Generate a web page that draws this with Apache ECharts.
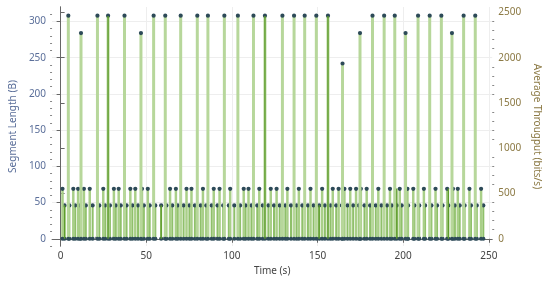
<!DOCTYPE html>
<html>
<head>
<meta charset="utf-8">
<script src="https://cdn.jsdelivr.net/npm/echarts@6/dist/echarts.min.js"></script>
<style>
  html, body { margin: 0; padding: 0; background: #fff; }
  #chart { width: 550px; height: 281px; }
</style>
</head>
<body>
<div id="chart"></div>
<script>
// tall segments (time s, length B)
const tallTimes = [4.5, 11.9, 21.5, 27.7, 37.3, 46.9, 54.3, 61.1, 70.1, 79.8, 86.0, 95.6, 103.5, 112.6, 119.3, 129.5,
  136.3, 142.5, 149.3, 156.1, 164.6, 174.8, 182.1, 188.9, 195.1, 201.4, 208.7, 215.5, 222.3, 228.5, 235.3, 242.1];
const tallValues = [308, 284, 308, 308, 308, 284, 308, 308, 308, 308, 308, 308, 308, 308, 308, 308,
  308, 308, 308, 308, 242, 284, 308, 308, 308, 284, 308, 308, 308, 284, 308, 308];

// 69 B segments
const midTimes = [1.1, 7.4, 10.2, 13.6, 17.0, 24.9, 31.1, 33.9, 40.7, 43.6, 47.5, 50.9, 63.9, 67.3, 73.5, 76.4,
  83.1, 89.4, 92.8, 99.0, 106.9, 109.7, 116.0, 122.7, 126.1, 132.4, 139.1, 145.9, 152.7, 158.9, 162.3, 165.7,
  169.1, 172.5, 175.3, 178.7, 185.5, 192.3, 198.0, 202.5, 205.9, 212.1, 218.9, 225.7, 229.1, 231.9, 238.7, 245.5];
const midValue = 69;

// 46 B segments
const lowTimes = [2.3, 5.1, 8.5, 11.3, 14.7, 18.7, 22.6, 26.0, 28.8, 32.2, 35.1, 38.5, 41.9, 45.2, 48.6, 52.0,
  55.3, 58.7, 61.8, 65.2, 68.4, 71.8, 75.2, 78.4, 81.8, 85.0, 88.2, 91.6, 94.9, 98.2, 101.4, 104.8, 108.0,
  111.4, 114.8, 118.0, 121.3, 124.6, 127.9, 131.2, 134.5, 137.8, 141.1, 144.4, 147.7, 151.0, 154.3, 157.6,
  160.9, 164.2, 167.5, 170.8, 174.1, 177.4, 180.7, 184.0, 187.3, 190.6, 193.3, 196.3, 199.1, 202.9, 206.6,
  209.4, 212.8, 216.5, 219.8, 223.0, 226.4, 230.2, 233.0, 235.9, 239.6, 243.0, 246.8];
const lowValue = 46;

// average throughput spikes (time s, bits/s)
const thrTimes = [2.3, 27.7, 58.7, 119.3, 150.9, 156.1, 196.3, 226.4];
const thrValues = [370, 2460, 370, 2460, 370, 2460, 555, 555];

const xTicks = [0, 50, 100, 150, 200, 250];
const leftTicks = [0, 50, 100, 150, 200, 250, 300];
const rightTicks = [0, 500, 1000, 1500, 2000, 2500];
const xMinor = [10, 20, 30, 40, 60, 70, 80, 90, 110, 120, 130, 140, 160, 170, 180, 190, 210, 220, 230, 240];
const leftMinor = [-10, 10, 20, 30, 40, 60, 70, 80, 90, 110, 120, 130, 140, 160, 170, 180, 190, 210, 220, 230, 240,
  260, 270, 280, 290, 310];
const rightMinor = [100, 200, 300, 400, 600, 700, 800, 900, 1100, 1200, 1300, 1400, 1600, 1700, 1800, 1900,
  2100, 2200, 2300, 2400];

const dotColor = "#2d4a58";
const font = "Noto Sans";

const chart = echarts.init(document.getElementById("chart"), null, { renderer: "canvas" });

function stem(color, width) {
  return function (params, api) {
    const top = api.coord([api.value(0), api.value(1)]);
    const base = api.coord([api.value(0), 0]);
    return {
      type: "group",
      children: [
        { type: "line", shape: { x1: top[0], y1: base[1], x2: top[0], y2: top[1] },
          style: { stroke: color, lineWidth: width } },
        { type: "circle", shape: { cx: top[0], cy: top[1], r: 2.1 }, style: { fill: dotColor } },
        { type: "circle", shape: { cx: base[0], cy: base[1], r: 2.1 }, style: { fill: dotColor } },
      ],
    };
  };
}

function thrLine(params, api) {
  const top = api.coord([api.value(0), api.value(1)]);
  const base = api.coord([api.value(0), 0]);
  return { type: "line", shape: { x1: top[0], y1: base[1], x2: top[0], y2: top[1] },
    style: { stroke: "#5e9c2c", lineWidth: 1.4 } };
}

const minorAxis = {
  axisLine: { show: false },
  axisLabel: { show: false },
  splitLine: { show: false },
};

chart.setOption({
  animation: false,
  textStyle: { fontFamily: font },
  grid: { left: 45, right: 52, top: 7, bottom: 33 },
  xAxis: [
    {
      type: "value", min: -5, max: 252,
      name: "Time (s)", nameLocation: "middle", nameGap: 20,
      nameTextStyle: { color: "#444", fontSize: 10, fontFamily: font },
      axisLine: { show: true, lineStyle: { color: "#666" } },
      axisTick: { show: true, length: 4, customValues: xTicks, lineStyle: { color: "#666" } },
      axisLabel: { customValues: xTicks, color: "#444", fontSize: 10, margin: 5 },
      splitLine: { show: true, lineStyle: { color: "#eeeeee" } },
    },
    Object.assign({ type: "value", min: -5, max: 252,
      axisTick: { show: true, length: 2, customValues: xMinor, lineStyle: { color: "#888" } } }, minorAxis),
  ],
  yAxis: [
    {
      type: "value", min: -10, max: 320, position: "left",
      name: "Segment Length (B)", nameLocation: "middle", nameGap: 34,
      nameTextStyle: { color: "#5b6f9a", fontSize: 10, fontFamily: font },
      axisLine: { show: true, lineStyle: { color: "#666" } },
      axisTick: { show: true, length: 4, customValues: leftTicks, lineStyle: { color: "#666" } },
      axisLabel: { customValues: leftTicks, color: "#5b6f9a", fontSize: 10, margin: 6 },
      splitLine: { show: true, lineStyle: { color: "#eeeeee" } },
    },
    {
      type: "value", min: -80, max: 2560, position: "right",
      name: "Average Througput (bits/s)", nameLocation: "middle", nameGap: 36, nameRotate: -90,
      nameTextStyle: { color: "#8c7a45", fontSize: 10, fontFamily: font },
      axisLine: { show: true, lineStyle: { color: "#666" } },
      axisTick: { show: true, length: 4, customValues: rightTicks, lineStyle: { color: "#666" } },
      axisLabel: { customValues: rightTicks, color: "#8c7a45", fontSize: 10, margin: 6,
        formatter: (v) => String(v) },
      splitLine: { show: false },
    },
    Object.assign({ type: "value", min: -10, max: 320, position: "left",
      axisTick: { show: true, length: 2, customValues: leftMinor, lineStyle: { color: "#888" } } }, minorAxis),
    Object.assign({ type: "value", min: -80, max: 2560, position: "right",
      axisTick: { show: true, length: 2, customValues: rightMinor, lineStyle: { color: "#888" } } }, minorAxis),
  ],
  series: [
    {
      type: "custom", name: "low", xAxisIndex: 0, yAxisIndex: 0, z: 2,
      renderItem: stem("#8fc06a", 2),
      data: lowTimes.map((t) => [t, lowValue]),
    },
    {
      type: "custom", name: "mid", xAxisIndex: 0, yAxisIndex: 0, z: 3,
      renderItem: stem("#a9cf88", 2.5),
      data: midTimes.map((t) => [t, midValue]),
    },
    {
      type: "custom", name: "tall", xAxisIndex: 0, yAxisIndex: 0, z: 4,
      renderItem: stem("#b7d79b", 3),
      data: tallTimes.map((t, i) => [t, tallValues[i]]),
    },
    {
      type: "custom", name: "throughput", xAxisIndex: 0, yAxisIndex: 1, z: 5,
      renderItem: thrLine,
      data: thrTimes.map((t, i) => [t, thrValues[i]]),
    },
  ],
});

window.addEventListener("resize", () => chart.resize());
</script>
</body>
</html>
